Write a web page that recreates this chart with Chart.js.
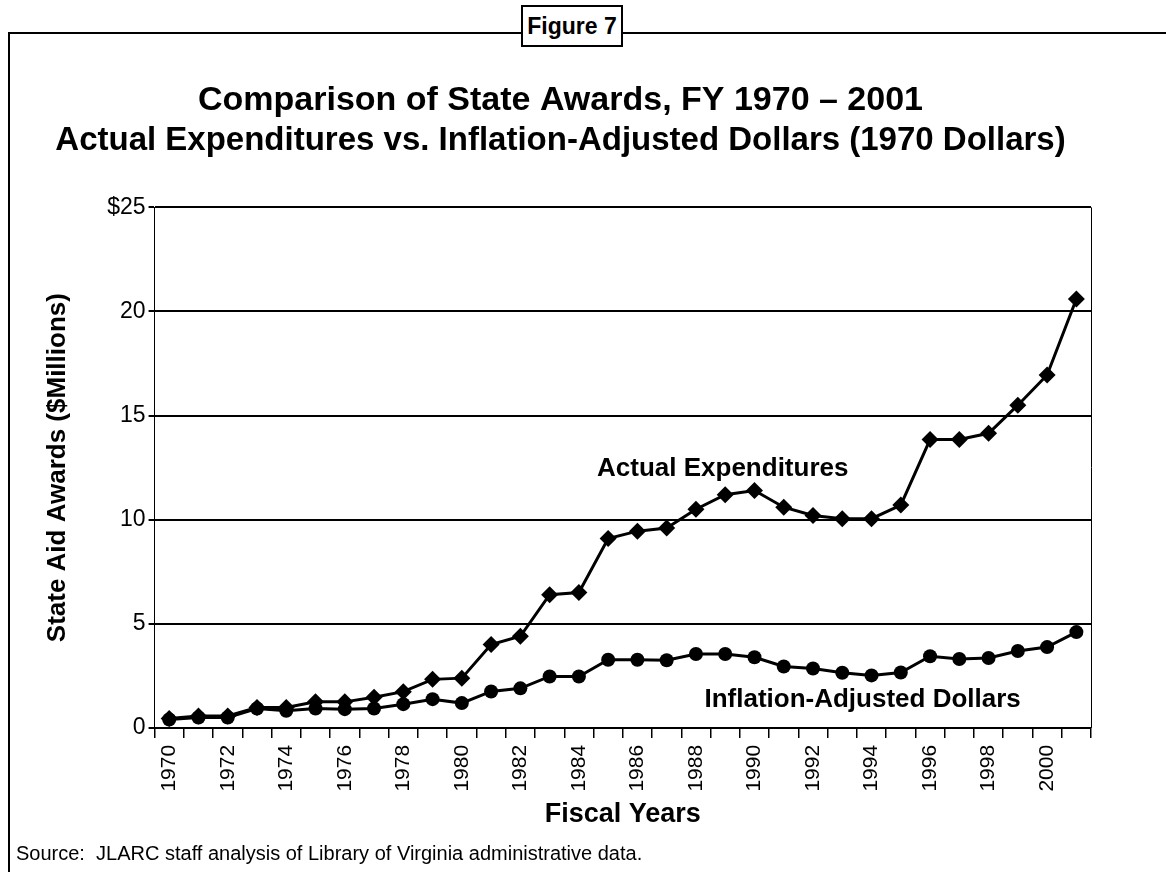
<!DOCTYPE html>
<html>
<head>
<meta charset="utf-8">
<title>Figure 7</title>
<script src="https://cdn.jsdelivr.net/npm/chart.js@4.4.1/dist/chart.umd.min.js"></script>
<style>
html,body{margin:0;padding:0;background:#fff;}
#wrap{position:relative;width:1166px;height:872px;overflow:hidden;font-family:"Liberation Sans",Arial,Helvetica,sans-serif;color:#000;}
#chart{position:absolute;left:0;top:0;}
.frame-top{position:absolute;left:8px;top:32px;right:0;border-top:2px solid #000;}
.frame-left{position:absolute;left:8px;top:32px;bottom:0;border-left:2px solid #000;}
.fig-box{position:absolute;left:521px;top:5px;width:98px;height:38px;border:2px solid #000;background:#fff;
  font-weight:bold;font-size:23px;line-height:38px;text-align:center;}
.source{position:absolute;left:16px;top:841px;font-size:20px;line-height:24px;}
</style>
</head>
<body>
<div id="wrap">
  <div class="frame-top"></div>
  <div class="frame-left"></div>
  <canvas id="chart" width="1166" height="872"></canvas>
  <div class="fig-box">Figure 7</div>
  <div class="source">Source:&nbsp; JLARC staff analysis of Library of Virginia administrative data.</div>
</div>
<script>
/* ============ DATA ============ */
const years = ['1970','1971','1972','1973','1974','1975','1976','1977','1978','1979',
               '1980','1981','1982','1983','1984','1985','1986','1987','1988','1989',
               '1990','1991','1992','1993','1994','1995','1996','1997','1998','1999',
               '2000','2001'];
// $ millions
const actualExpenditures = [0.45,0.57,0.57,0.98,0.98,1.25,1.25,1.47,1.74,2.33,
                            2.39,4.0,4.4,6.4,6.5,9.1,9.45,9.6,10.5,11.2,
                            11.4,10.6,10.2,10.05,10.05,10.7,13.85,13.85,14.15,15.5,
                            16.95,20.6];
const inflationAdjusted  = [0.4,0.5,0.5,0.93,0.82,0.93,0.9,0.93,1.14,1.38,
                            1.19,1.75,1.9,2.47,2.47,3.27,3.27,3.25,3.55,3.55,
                            3.39,2.95,2.85,2.65,2.52,2.66,3.44,3.31,3.36,3.69,
                            3.88,4.6];
const yTicks = [0,5,10,15,20,25];
const yTickLabels = ['0','5','10','15','20','$25'];

// series labels written on the plot: [text, category index, value]
const seriesNotes = [
  ['Actual Expenditures', 14.62, 12.45],
  ['Inflation-Adjusted Dollars', 18.29, 1.35]
];

const FONT = '"Liberation Sans", Arial, Helvetica, sans-serif';

/* ============ PLUGINS ============ */
const plotFrame = {
  id:'plotFrame',
  afterDraw(chart){
    const {ctx, chartArea:a} = chart;
    ctx.save();
    ctx.strokeStyle='#000'; ctx.lineWidth=1;
    ctx.beginPath(); ctx.moveTo(a.right+0.5, a.top); ctx.lineTo(a.right+0.5, a.bottom); ctx.stroke();
    ctx.restore();
  }
};
const notes = {
  id:'notes',
  afterDatasetsDraw(chart){
    const {ctx, scales:{x, y}} = chart;
    ctx.save();
    ctx.fillStyle='#000';
    ctx.font = 'bold 26px ' + FONT;
    ctx.textAlign='left'; ctx.textBaseline='middle';
    seriesNotes.forEach(([t, xi, yv]) => ctx.fillText(t, x.getPixelForValue(xi), y.getPixelForValue(yv)));
    ctx.restore();
  }
};

/* ============ CHART ============ */
function initChart(){
  const el = document.getElementById('chart');
  new Chart(el.getContext('2d'), {
    type:'line',
    data:{
      labels: years,
      datasets:[
        { label:'Actual Expenditures', data: actualExpenditures,
          borderColor:'#000', backgroundColor:'#000', borderWidth:3,
          pointStyle:'rectRot', pointRadius:8.5, pointBorderWidth:0, tension:0 },
        { label:'Inflation-Adjusted Dollars', data: inflationAdjusted,
          borderColor:'#000', backgroundColor:'#000', borderWidth:3,
          pointStyle:'circle', pointRadius:7, pointBorderWidth:0, tension:0 }
      ]
    },
    options:{
      responsive:false,
      animation:false,
      layout:{ padding:{ left:30, right:75, top:0, bottom:41 } },
      plugins:{
        legend:{ display:false },
        tooltip:{ enabled:false },
        title:{ display:true, text:'Comparison of State Awards, FY 1970 \u2013 2001', color:'#000',
                font:{ family:FONT, size:34, weight:'bold' }, padding:{ top:80, bottom:0 } },
        subtitle:{ display:true, text:'Actual Expenditures vs. Inflation-Adjusted Dollars (1970 Dollars)', color:'#000',
                font:{ family:FONT, size:33, weight:'bold' }, padding:{ top:0, bottom:47 } }
      },
      scales:{
        x:{
          offset:true,
          grid:{ offset:true, drawOnChartArea:false, drawTicks:true, tickLength:10, color:'#000', lineWidth:1.5 },
          border:{ color:'#000', width:2 },
          ticks:{ autoSkip:false, minRotation:90, maxRotation:90, color:'#000', padding:7,
                  font:{ family:FONT, size:21 },
                  callback(v, i){ return i % 2 === 0 ? this.getLabelForValue(v) : ''; } },
          title:{ display:true, text:'Fiscal Years', color:'#000',
                  font:{ family:FONT, size:27, weight:'bold' }, padding:{ top:0, bottom:0 } }
        },
        y:{
          min:0, max:25,
          afterBuildTicks(s){ s.ticks = yTicks.map(v => ({ value:v })); },
          ticks:{ color:'#000', padding:3, font:{ family:FONT, size:23 },
                  callback(v){ return yTickLabels[yTicks.indexOf(v)]; } },
          grid:{ color:'#000', lineWidth:2, tickLength:6 },
          border:{ color:'#000', width:1 },
          title:{ display:true, text:'State Aid Awards ($Millions)', color:'#000',
                  font:{ family:FONT, size:26, weight:'bold' }, padding:{ top:12, bottom:31 } }
        }
      }
    },
    plugins:[plotFrame, notes]
  });
}
document.addEventListener('DOMContentLoaded', () => initChart());
</script>
</body>
</html>
